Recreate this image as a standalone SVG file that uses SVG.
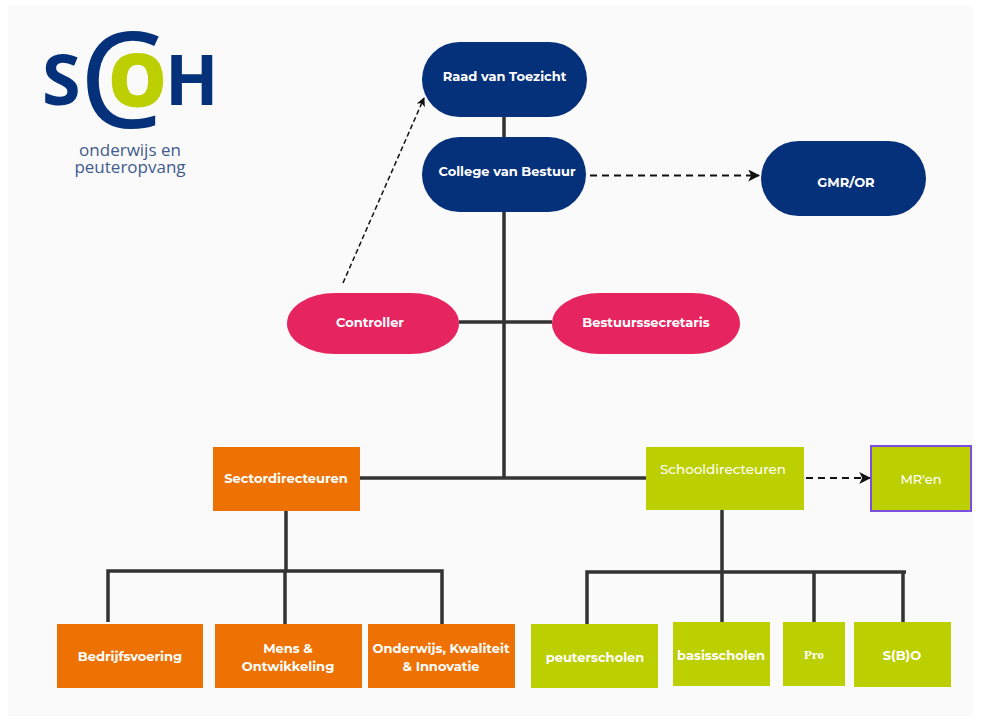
<svg xmlns="http://www.w3.org/2000/svg" width="981" height="722" viewBox="0 0 981 722">
<style>
.navy{fill:#05307a}.pink{fill:#e6245f}.orange{fill:#ee7203}.lime{fill:#bccf00}
.t{font-family:Montserrat,Inter,"Open Sans",sans-serif;font-size:13px;font-weight:700;fill:#fff;text-anchor:middle;dominant-baseline:central}
.l{font-weight:500}
.line{fill:none;stroke:#333;stroke-width:3.500}
.dash{fill:none;stroke:#111;stroke-width:2;stroke-dasharray:7 5}
.logo{font-family:"Open Sans",sans-serif}
</style>
<defs>
<marker id="arrow" viewBox="0 0 10 10" refX="9" refY="5" markerWidth="6" markerHeight="6" orient="auto"><path d="M0 0L10 5L0 10L2.500 5Z" fill="#111"/></marker>
</defs>
<rect width="981" height="722" fill="#fff"/>
<rect x="8" y="6" width="965" height="710" fill="#fbfafa"/>
<g id="logo" class="logo">
<text x="42" y="105" font-size="70" font-weight="700" fill="#05307a">S</text>
<text x="79" y="128" font-size="133" font-weight="500" fill="#05307a">C</text>
<text x="108" y="107" font-size="74" font-weight="800" fill="#bccf00">O</text>
<text x="165" y="105" font-size="70" font-weight="700" fill="#05307a">H</text>
<text x="130" y="156" font-size="17" fill="#3f5b8c" text-anchor="middle">onderwijs en</text>
<text x="130" y="173" font-size="17" fill="#3f5b8c" text-anchor="middle">peuteropvang</text>
</g>
<g id="connectors">
<path class="line" d="M504 116V478M459 322H552M360 478H646M286 511V571M108 622V571H442V624M285 571V624M722 510V622M587 624V572H906M814 572V622M903 572V622"/>
<path class="dash" d="M590 175.500H759" marker-end="url(#arrow)"/>
<path class="dash" d="M806 478H870" marker-end="url(#arrow)"/>
<path class="dash" style="stroke-width:1.500;stroke-dasharray:5 3" d="M343 283L424 98" marker-end="url(#arrow)"/>
</g>
<g id="raad"><rect class="navy" x="422" y="42" width="165" height="75" rx="37.500"/><text class="t" x="504.500" y="76">Raad van Toezicht</text></g>
<g id="college"><rect class="navy" x="422" y="137" width="164" height="75" rx="37.500"/><text class="t" x="507" y="171">College van Bestuur</text></g>
<g id="gmr"><rect class="navy" x="761" y="141" width="165" height="75" rx="37.500"/><text class="t" x="846" y="182">GMR/OR</text></g>
<g id="controller"><rect class="pink" x="287" y="293" width="172" height="61" rx="48" ry="30.500"/><text class="t" x="370" y="322">Controller</text></g>
<g id="bestuurssecretaris"><rect class="pink" x="552" y="293" width="188" height="61" rx="48" ry="30.500"/><text class="t" x="646" y="322">Bestuurssecretaris</text></g>
<g id="sectordirecteuren"><rect class="orange" x="213" y="447" width="147" height="64"/><text class="t" x="286" y="478">Sectordirecteuren</text></g>
<g id="schooldirecteuren"><rect class="lime" x="646" y="447" width="158" height="63"/><text class="t l" style="font-size:13.500px" x="723" y="469">Schooldirecteuren</text></g>
<g id="mren"><rect class="lime" x="871" y="446" width="100" height="65" stroke="#7a4fe0" stroke-width="2"/><text class="t l" x="921" y="479">MR'en</text></g>
<g id="bedrijfsvoering"><rect class="orange" x="57" y="624" width="146" height="64"/><text class="t" x="130" y="656">Bedrijfsvoering</text></g>
<g id="mens"><rect class="orange" x="215" y="624" width="147" height="64"/><text class="t" x="288" y="648">Mens &amp;</text><text class="t" x="288" y="666">Ontwikkeling</text></g>
<g id="onderwijs"><rect class="orange" x="368" y="624" width="147" height="64"/><text class="t" x="441" y="648">Onderwijs, Kwaliteit</text><text class="t" x="441" y="666">&amp; Innovatie</text></g>
<g id="peuterscholen"><rect class="lime" x="531" y="624" width="127" height="64"/><text class="t" x="595" y="657">peuterscholen</text></g>
<g id="basisscholen"><rect class="lime" x="673" y="622" width="97" height="64"/><text class="t" x="721" y="655">basisscholen</text></g>
<g id="pro"><rect class="lime" x="783" y="622" width="62" height="64"/><text class="t" style="font-family:'Liberation Serif',serif" x="814" y="654">Pro</text></g>
<g id="sbo"><rect class="lime" x="854" y="622" width="97" height="65"/><text class="t" x="902" y="655">S(B)O</text></g>
</svg>
